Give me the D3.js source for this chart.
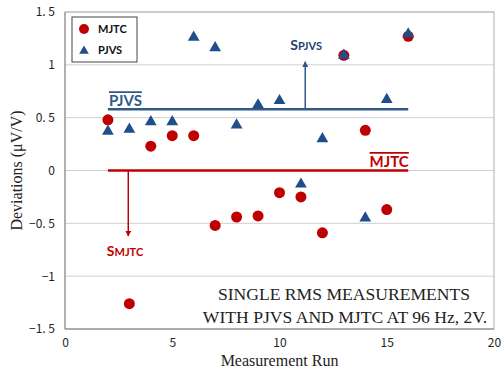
<!DOCTYPE html>
<html>
<head>
<meta charset="utf-8">
<script src="https://cdn.jsdelivr.net/npm/d3@7"></script>
<style>
  body { margin: 0; background: #fff; }
  svg { display: block; }
</style>
</head>
<body>
<div id="chart"></div>
<script>
// measurement runs
var runs = [2, 3, 4, 5, 6, 7, 8, 9, 10, 11, 12, 13, 14, 15, 16];
// deviations in uV/V
var mjtc = [0.48, -1.26, 0.23, 0.33, 0.33, -0.52, -0.44, -0.43, -0.21, -0.25, -0.59, 1.09, 0.38, -0.37, 1.27];
var pjvs = [0.38, 0.40, 0.47, 0.47, 1.27, 1.17, 0.44, 0.63, 0.67, -0.12, 0.31, 1.10, -0.44, 0.68, 1.30];
var yTicks = [-1.5, -1, -0.5, 0, 0.5, 1, 1.5];
var yTickLabels = ["\u22121. 5", "\u22121", "\u22120. 5", "0", "0. 5", "1", "1. 5"];
var xTicks = [0, 5, 10, 15, 20];
// mean lines and spread arrows
var meanPjvs = 0.58, meanMjtc = 0.0;
var sPjvs = {x: 11.2, to: 1.03};
var sMjtc = {x: 2.95, to: -0.62};

var width = 504, height = 373;
var red = "#C00000", blue = "#1F4E8C", blueLine = "#2E5A87";

var svg = d3.select("#chart").append("svg")
  .attr("width", width)
  .attr("height", height);

var x = d3.scaleLinear().domain([0, 20]).range([65, 494]);
var y = d3.scaleLinear().domain([-1.5, 1.5]).range([329, 12]);

var defs = svg.append("defs");
function marker(id, color){
  defs.append("marker")
    .attr("id", id)
    .attr("viewBox", "0 0 10 10")
    .attr("refX", 9).attr("refY", 5)
    .attr("markerWidth", 4).attr("markerHeight", 4)
    .attr("orient", "auto")
    .append("path")
      .attr("d", "M0,0L10,5L0,10z")
      .attr("fill", color);
}
marker("arrBlue", blueLine);
marker("arrRed", red);

// gridlines
svg.append("g").selectAll("line")
  .data(yTicks)
  .enter().append("line")
    .attr("x1", x(0)).attr("x2", x(20))
    .attr("y1", d => y(d)).attr("y2", d => y(d))
    .attr("stroke", "#d0d0d0")
    .attr("stroke-width", 1);

// plot border
svg.append("rect")
  .attr("x", x(0)).attr("y", y(1.5))
  .attr("width", x(20) - x(0)).attr("height", y(-1.5) - y(1.5))
  .attr("fill", "none")
  .attr("stroke", "#b0b0b0");
svg.append("line")
  .attr("x1", x(0)).attr("x2", x(0)).attr("y1", y(1.5)).attr("y2", y(-1.5))
  .attr("stroke", "#8c8c8c");
svg.append("line")
  .attr("x1", x(0)).attr("x2", x(20)).attr("y1", y(-1.5)).attr("y2", y(-1.5))
  .attr("stroke", "#8c8c8c");

// axes
var yAxis = d3.axisLeft(y).tickValues(yTicks)
  .tickFormat((d, i) => yTickLabels[i]).tickSize(0).tickPadding(10);
var gy = svg.append("g").attr("transform", "translate(" + x(0) + ",0)").call(yAxis);
gy.select(".domain").remove();
gy.selectAll("text").attr("font-family", "Noto Sans CJK JP, sans-serif").attr("font-size", 12).attr("fill", "#222");

var xAxis = d3.axisBottom(x).tickValues(xTicks).tickSize(0).tickPadding(9);
var gx = svg.append("g").attr("transform", "translate(0," + y(-1.5) + ")").call(xAxis);
gx.select(".domain").remove();
gx.selectAll("text").attr("font-family", "Noto Sans CJK JP, sans-serif").attr("font-size", 12).attr("fill", "#222");

// axis titles
svg.append("text")
  .attr("transform", "translate(22," + y(0) + ") rotate(-90)")
  .attr("text-anchor", "middle")
  .attr("font-family", "Liberation Serif, serif")
  .attr("font-size", 16)
  .attr("fill", "#222")
  .text("Deviations (\u03BCV/V)");
svg.append("text")
  .attr("x", x(10)).attr("y", 366)
  .attr("text-anchor", "middle")
  .attr("font-family", "Liberation Serif, serif")
  .attr("font-size", 16)
  .attr("fill", "#222")
  .text("Measurement Run");

// mean lines
svg.append("line")
  .attr("x1", x(2)).attr("x2", x(16))
  .attr("y1", y(meanPjvs)).attr("y2", y(meanPjvs))
  .attr("stroke", blueLine).attr("stroke-width", 2.5);
svg.append("line")
  .attr("x1", x(2)).attr("x2", x(16))
  .attr("y1", y(meanMjtc)).attr("y2", y(meanMjtc))
  .attr("stroke", red).attr("stroke-width", 2.5);

// spread arrows
svg.append("line")
  .attr("x1", x(sPjvs.x)).attr("x2", x(sPjvs.x))
  .attr("y1", y(meanPjvs)).attr("y2", y(sPjvs.to))
  .attr("stroke", blueLine).attr("stroke-width", 1.5)
  .attr("marker-end", "url(#arrBlue)");
svg.append("line")
  .attr("x1", x(sMjtc.x)).attr("x2", x(sMjtc.x))
  .attr("y1", y(meanMjtc)).attr("y2", y(sMjtc.to))
  .attr("stroke", red).attr("stroke-width", 1.5)
  .attr("marker-end", "url(#arrRed)");

// mean labels with overline
function overLabel(txt, xv, yv, color){
  var t = svg.append("text")
    .attr("x", x(xv)).attr("y", y(yv))
    .attr("font-family", "Lato, sans-serif")
    .attr("font-weight", "bold")
    .attr("font-size", 15)
    .attr("fill", color)
    .text(txt);
  var bb = t.node().getBBox();
  svg.append("line")
    .attr("x1", bb.x).attr("x2", bb.x + bb.width)
    .attr("y1", bb.y + 1).attr("y2", bb.y + 1)
    .attr("stroke", color).attr("stroke-width", 1.8);
}
overLabel("PJVS", 2.05, 0.61, blueLine);
overLabel("MJTC", 14.2, 0.035, red);

function sLabel(main, sub, xv, yv, color){
  var t = svg.append("text")
    .attr("x", x(xv)).attr("y", y(yv))
    .attr("font-family", "Lato, sans-serif")
    .attr("font-weight", "bold")
    .attr("fill", color);
  t.append("tspan").attr("font-size", 14).text(main);
  t.append("tspan").attr("font-size", 11).text(sub);
}
sLabel("S", "PJVS", 10.5, 1.14, "#1F3F6E");
sLabel("S", "MJTC", 1.95, -0.81, red);

// MJTC circles
svg.append("g").selectAll("circle")
  .data(runs.map((r, i) => ({run: r, value: mjtc[i]})))
  .enter().append("circle")
    .attr("cx", d => x(d.run))
    .attr("cy", d => y(d.value))
    .attr("r", 5.5)
    .attr("fill", red);

// PJVS triangles
var tri = d3.symbol().type(d3.symbolTriangle).size(60);
svg.append("g").selectAll("path")
  .data(runs.map((r, i) => ({run: r, value: pjvs[i]})))
  .enter().append("path")
    .attr("d", tri)
    .attr("transform", d => "translate(" + x(d.run) + "," + (y(d.value) + 1) + ")")
    .attr("fill", blue);

// legend
var lg = svg.append("g");
lg.append("rect")
  .attr("x", 72).attr("y", 17).attr("width", 65).attr("height", 45)
  .attr("fill", "#fff").attr("stroke", "#444").attr("stroke-width", 1);
lg.append("circle").attr("cx", 84).attr("cy", 29).attr("r", 5).attr("fill", red);
lg.append("path").attr("d", d3.symbol().type(d3.symbolTriangle).size(40))
  .attr("transform", "translate(84,51)").attr("fill", blue);
lg.append("text").attr("x", 98).attr("y", 33).text("MJTC");
lg.append("text").attr("x", 98).attr("y", 54).text("PJVS");
lg.selectAll("text")
  .attr("font-family", "Lato, sans-serif")
  .attr("font-weight", "bold")
  .attr("font-size", 11)
  .attr("fill", "#111");

// annotation
var note = svg.append("text")
  .attr("text-anchor", "middle")
  .attr("font-family", "Liberation Serif, serif")
  .attr("font-size", 17.6)
  .attr("fill", "#222");
note.append("tspan").attr("x", 344).attr("y", 300).text("SINGLE RMS MEASUREMENTS");
note.append("tspan").attr("x", 345).attr("y", 323).text("WITH PJVS AND MJTC AT 96 Hz, 2V.");
</script>
</body>
</html>
